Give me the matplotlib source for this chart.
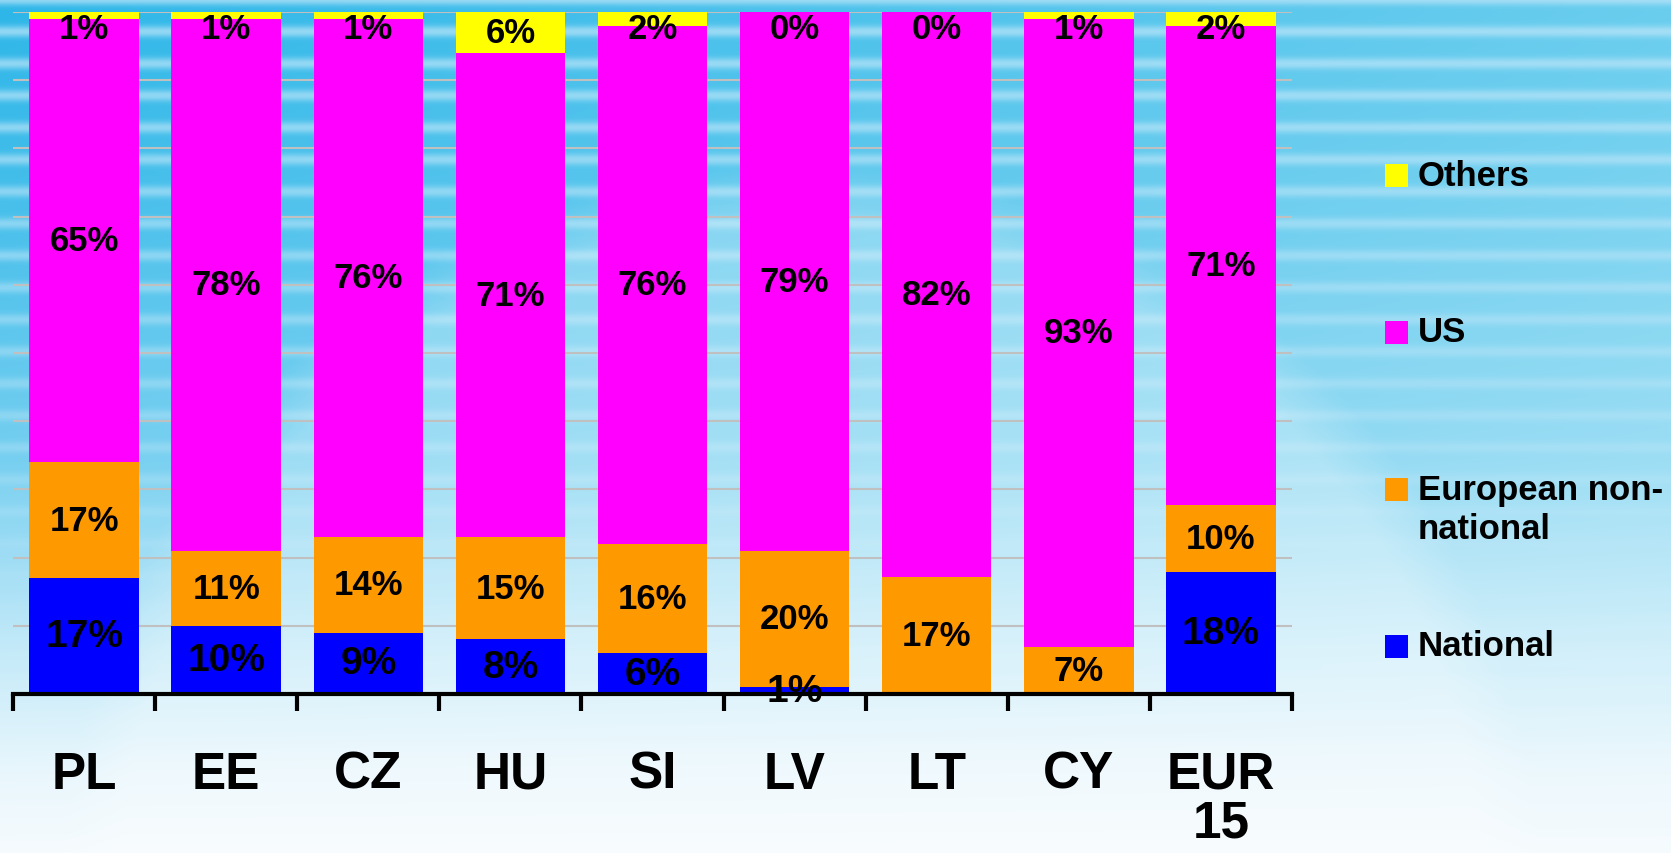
import matplotlib.pyplot as plt
from matplotlib.patches import Rectangle
import numpy as np

plt.rcParams['font.family'] = ['Liberation Sans', 'DejaVu Sans']
plt.rcParams['font.weight'] = 'bold'

# data (percent of films by origin)
countries = ['PL', 'EE', 'CZ', 'HU', 'SI', 'LV', 'LT', 'CY', 'EUR\n15']
national = [17, 10, 9, 8, 6, 1, 0, 0, 18]
european = [17, 11, 14, 15, 16, 20, 17, 7, 10]
us = [65, 78, 76, 71, 76, 79, 82, 93, 71]
others = [1, 1, 1, 6, 2, 0, 0, 1, 2]

series_names = ['National', 'European non-\nnational', 'US', 'Others']
series_vals = [national, european, us, others]
colors = ['#0000ff', '#ff9900', '#ff00ff', '#ffff00']

W, H = 1671, 854
fig = plt.figure(figsize=(W / 100, H / 100), dpi=100)

# background: blue streaky gradient fading to white
yy = np.arange(H)[:, None] / H
xx = np.arange(W)[None, :] / W
w = np.interp(yy, [0, 0.2, 0.53, 0.76, 0.9, 1], [0, 0.1, 0.35, 0.75, 0.93, 1])
top_l = np.array([45, 182, 232]) / 255
top_r = np.array([105, 205, 238]) / 255
bottom = np.array([246, 251, 254]) / 255
topc = top_l + (top_r - top_l) * xx[..., None]
img = topc * (1 - w[..., None]) + bottom * w[..., None]
stripe = (0.5 + 0.5 * np.cos(2 * np.pi * np.arange(H)[:, None] / 32)) ** 3
amp = 0.7 * (1 - w) ** 1.5 * stripe
img = img * (1 - amp[..., None]) + np.array([190, 230, 249]) / 255 * amp[..., None]
# soft lighter swoosh
d = np.sqrt((xx * W - 800) ** 2 + (yy * H - 900) ** 2)
glow = 0.25 * np.clip((740 - d) / 60, 0, 1)
img = img * (1 - glow[..., None]) + glow[..., None]
bg = fig.add_axes([0, 0, 1, 1], zorder=-10)
bg.imshow(np.clip(img, 0, 1), aspect='auto', interpolation='bilinear')
bg.axis('off')

ax = fig.add_axes([13 / W, 1 - 695 / H, 1279 / W, 682 / H])
ax.patch.set_alpha(0)

x = np.arange(len(countries)) + 0.5
totals = np.sum(series_vals, axis=0)
base = np.zeros(len(countries))
for name, vals, c in zip(series_names, series_vals, colors):
    h = np.array(vals) * 100.0 / totals  # 100% stacked
    ax.bar(x, h, 0.77, bottom=base, color=c, linewidth=0, zorder=3)
    for i, v in enumerate(vals):
        if v == 0 and name == 'National':
            continue
        yc = base[i] + h[i] / 2
        if name == 'Others':
            yc = min(yc, 97.6)
        fs = 28 if name == 'National' else 25
        ax.text(x[i], yc, '%d%%' % v, ha='center', va='center', fontsize=fs,
                fontweight='bold', zorder=5)
    base += h

ax.set_xlim(0, len(countries))
ax.set_ylim(0, 100)
ax.set_yticks(np.arange(0, 101, 10))
ax.yaxis.grid(True, color='#c0c0c0', linewidth=1.5, zorder=1)
ax.tick_params(axis='y', length=0, labelleft=False)
for s in ['left', 'right', 'top']:
    ax.spines[s].set_visible(False)
ax.spines['bottom'].set_linewidth(3)
ax.spines['bottom'].set_zorder(4)
ax.set_xticks(np.arange(len(countries) + 1), minor=True)
ax.tick_params(axis='x', which='minor', length=12, width=3, direction='out')
ax.set_xticks(x)
ax.set_xticklabels(countries, fontsize=37, fontweight='bold', linespacing=1.0)
ax.tick_params(axis='x', which='major', length=0, pad=40)

# legend drawn by hand, top to bottom
for k in range(len(series_names)):
    j = len(series_names) - 1 - k
    sy = 176 + k * 157
    fig.add_artist(Rectangle((1385 / W, 1 - (sy + 11.5) / H), 23 / W, 23 / H,
                             transform=fig.transFigure, color=colors[j], linewidth=0))
    nl = series_names[j].count('\n')
    fig.text(1418 / W, 1 - (sy + nl * 20) / H, series_names[j], ha='left', va='center',
             fontsize=25, fontweight='bold', linespacing=1.2)

plt.savefig('out.png', dpi=100)
